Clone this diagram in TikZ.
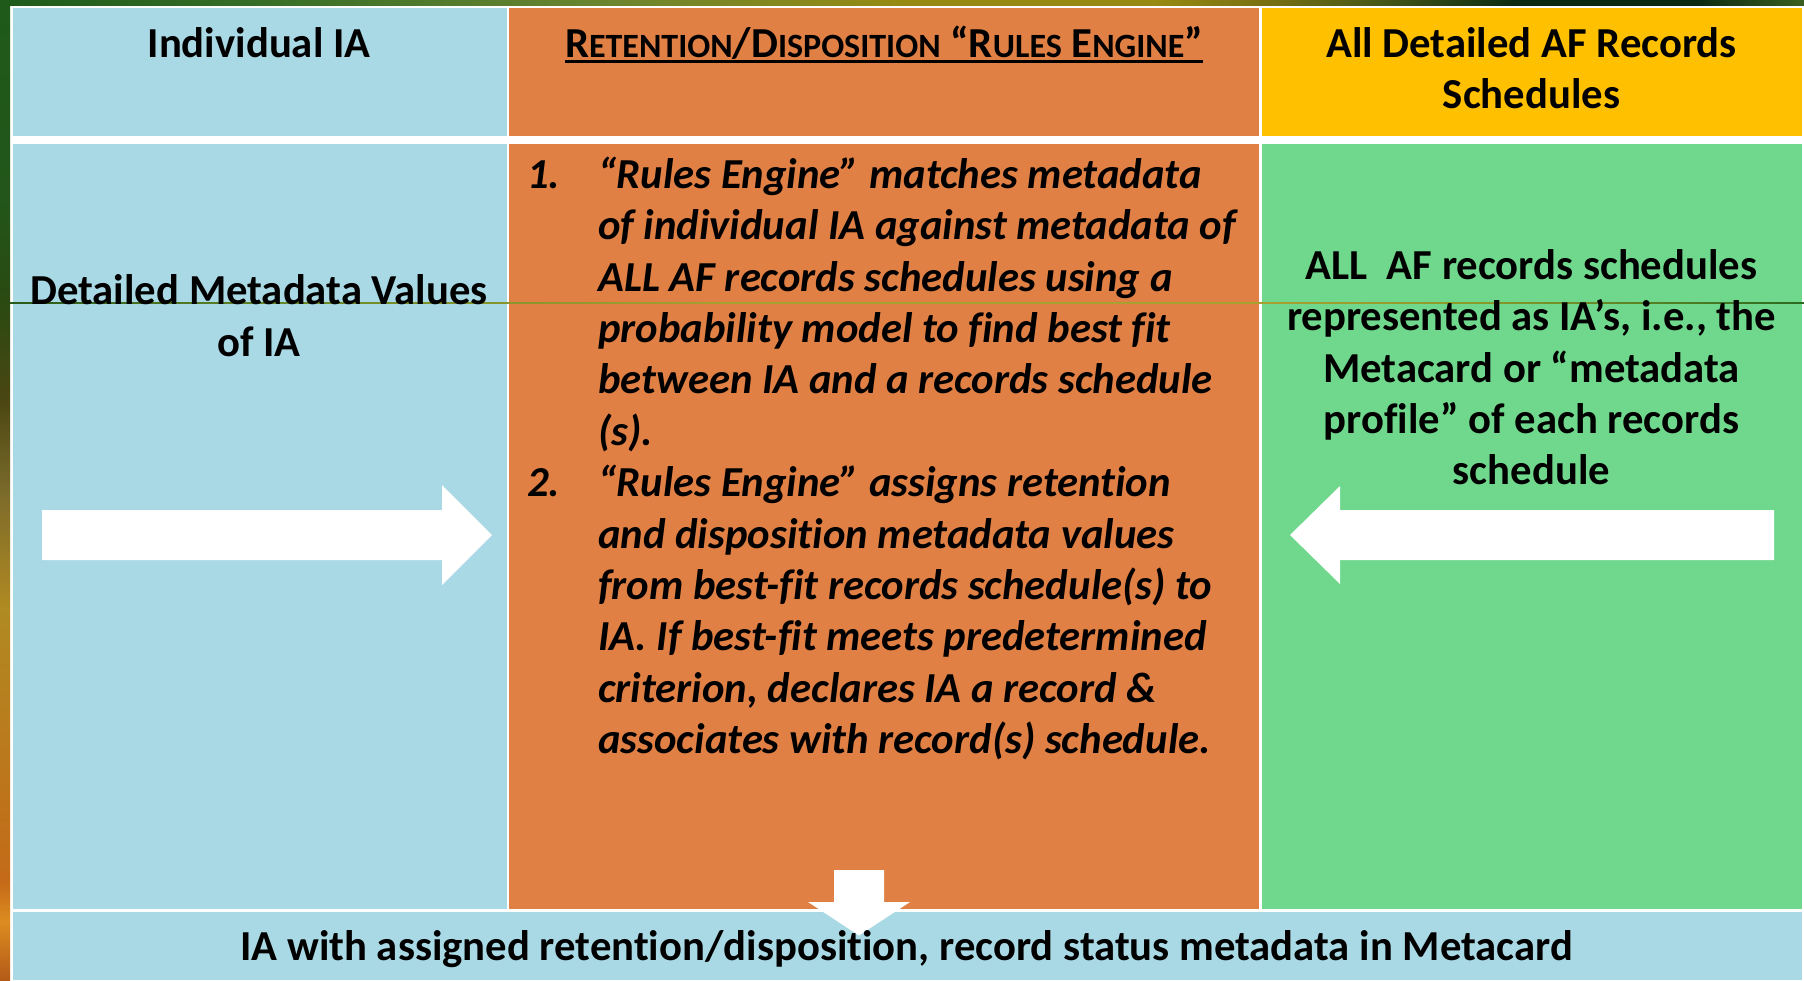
\documentclass[tikz,border=0pt]{standalone}
\usepackage{fontspec}
\setmainfont{Carlito}[Ligatures=NoCommon]
\usetikzlibrary{calc}
\definecolor{cblue}{HTML}{A9D9E4}
\definecolor{corange}{HTML}{E08044}
\definecolor{cyellow}{HTML}{FFC000}
\definecolor{cgreen}{HTML}{70D88D}
\definecolor{tA}{HTML}{1E5A1A}
\definecolor{tB}{HTML}{3A7028}
\definecolor{tC}{HTML}{6A8530}
\definecolor{tD}{HTML}{968A12}
\definecolor{tE}{HTML}{7A7012}
\definecolor{tF}{HTML}{4A5A18}
\definecolor{tG}{HTML}{0A2A12}
\definecolor{tH}{HTML}{3A6020}
\definecolor{lA}{HTML}{1F5A1A}
\definecolor{lB}{HTML}{22561A}
\definecolor{lC}{HTML}{2A4A12}
\definecolor{lD}{HTML}{4A4612}
\definecolor{lE}{HTML}{7A6A2A}
\definecolor{lF}{HTML}{B08A22}
\definecolor{lG}{HTML}{C46A18}
\definecolor{lH}{HTML}{DC8C20}
\definecolor{lI}{HTML}{B45A18}
\definecolor{sA}{HTML}{2A5A1A}
\definecolor{sB}{HTML}{6A8A2A}
\definecolor{sC}{HTML}{A8A030}
\definecolor{sD}{HTML}{8A9A28}
\definecolor{sE}{HTML}{2A6A20}
\pgfdeclarehorizontalshading{topstrip}{100bp}{color(0bp)=(tA); color(25bp)=(tA); color(33bp)=(tB); color(41.6bp)=(tC); color(50bp)=(tD); color(57bp)=(tD); color(60bp)=(tE); color(63bp)=(tF); color(67bp)=(tG); color(72bp)=(tG); color(75bp)=(tH); color(100bp)=(tH)}
\pgfdeclarehorizontalshading{thinline}{100bp}{color(0bp)=(sA); color(25bp)=(sA); color(33bp)=(sB); color(45bp)=(sC); color(60bp)=(sC); color(66bp)=(sD); color(75bp)=(sE); color(100bp)=(sE)}
\pgfdeclareverticalshading{leftstrip}{100bp}{color(0bp)=(lI); color(25bp)=(lI); color(28bp)=(lH); color(30bp)=(lG); color(44bp)=(lF); color(50bp)=(lE); color(54.6bp)=(lD); color(59.7bp)=(lC); color(64.8bp)=(lB); color(75bp)=(lA); color(100bp)=(lA)}
\newcommand{\scx}[1]{{\fontsize{34}{40}\selectfont #1}}
\newcommand{\tstrut}{\rule{0pt}{40pt}}
\tikzset{
  txt/.style={inner sep=0pt, font=\fontsize{42.7}{51.4}\selectfont\bfseries},
  itxt/.style={inner sep=0pt, font=\fontsize{42.7}{51.4}\selectfont\bfseries\itshape},
  blockarrow/.style={fill=white, draw=none},
}
\begin{document}
\begin{tikzpicture}[x=1pt, y=-1pt]
\useasboundingbox (0,0) rectangle (1804,980);
% page and background strips
\fill[white] (0,0) rectangle (1804,980);
\shade[shading=topstrip] (0,0) rectangle (1804,5.3);
\shade[shading=leftstrip] (0,0) rectangle (10,980);
% cells
\fill[cblue]   (12.5,8) rectangle (506.5,136);
\fill[corange] (509,8) rectangle (1258.5,136);
\fill[cyellow] (1261.5,8) rectangle (1801.7,136);
\fill[cblue]   (12.5,143.5) rectangle (506.5,909);
\fill[corange] (509,143.5) rectangle (1258.5,909);
\fill[cgreen]  (1261.5,143.5) rectangle (1801.7,909);
\fill[cblue]   (12.5,912) rectangle (1801.7,980);
% thin background line across the table
\shade[shading=thinline] (10,302.2) rectangle (1804,303.3);
% block arrows
\fill[blockarrow] (42,510) -- (442,510) -- (442,485) -- (492,535) -- (442,585) -- (442,560) -- (42,560) -- cycle;
\fill[blockarrow] (1774,510) -- (1340,510) -- (1340,486) -- (1290,535) -- (1340,584) -- (1340,560) -- (1774,560) -- cycle;
\fill[blockarrow] (834,870) -- (884,870) -- (884,902) -- (910,902) -- (859,935.5) -- (808,902) -- (834,902) -- cycle;
% headers
\node[txt, anchor=base] (h1) at (259,57) {Individual IA};
\node[txt, anchor=base] (h2) at (884,57) {R\scx{ETENTION}/D\scx{ISPOSITION} “R\scx{ULES} E\scx{NGINE}”};
\draw[line width=3pt] ($(h2.base west)+(0,4.5)$) -- ($(h2.base east)+(0,4.5)$);
\node[txt, anchor=north, align=center] (h3) at (1531.5,17) {\tstrut All Detailed AF Records\\Schedules};
% body texts
\node[txt, anchor=north, align=center] (b1) at (259,264.5) {\tstrut Detailed Metadata Values\\of IA};
\node[itxt, anchor=base west] (n1) at (527,188) {1.};
\node[itxt, anchor=north west, align=left] (m1) at (598,148) {\tstrut “Rules Engine” matches metadata\\of individual IA against metadata of\\ALL AF records schedules using a\\probability model to find best fit\\between IA and a records schedule\\(s).};
\node[itxt, anchor=base west] (n2) at (527,496.4) {2.};
\node[itxt, anchor=north west, align=left] (m2) at (598,456.4) {\tstrut “Rules Engine” assigns retention\\and disposition metadata values\\from best-fit records schedule(s) to\\IA. If best-fit meets predetermined\\criterion, declares IA a record \&\\associates with record(s) schedule.};
\node[txt, anchor=north, align=center] (b3) at (1531.5,239) {\tstrut ALL\ \ AF records schedules\\represented as IA’s, i.e., the\\Metacard or “metadata\\profile” of each records\\schedule};
\node[txt, anchor=base] (bt) at (906.5,960) {IA with assigned retention/disposition, record status metadata in Metacard};
\end{tikzpicture}
\end{document}
